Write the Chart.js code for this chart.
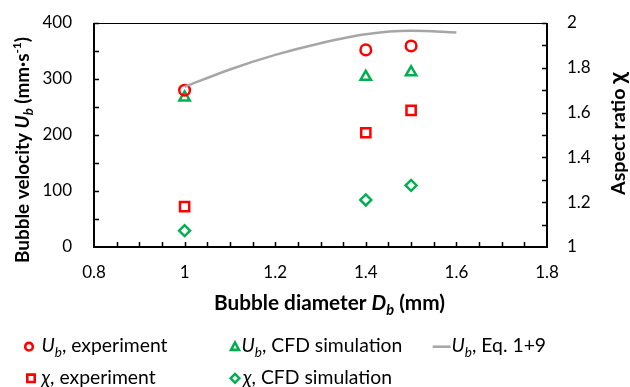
<!DOCTYPE html>
<html>
<head>
<meta charset="utf-8">
<script src="https://cdn.jsdelivr.net/npm/chart.js@4.4.1/dist/chart.umd.min.js"></script>
<style>
  html, body { margin: 0; padding: 0; background: #fff; }
  #wrap { width: 630px; height: 387px; }
</style>
</head>
<body>
<div id="wrap"><canvas id="chart" width="630" height="387"></canvas></div>
<script>
// data
const diameters = [1.0, 1.4, 1.5];
const ubExperiment = [280, 352, 359];
const ubCfd = [267, 304, 312];
const chiExperiment = [1.18, 1.51, 1.61];
const chiCfd = [1.073, 1.21, 1.275];
const eqDiameters = [1.0, 1.1, 1.2, 1.3, 1.4, 1.5, 1.6];
const ubEquation = [286, 317, 343, 364, 380, 386, 383];

const RED = '#FF0000';
const GREEN = '#00B050';
const GRAY = '#A6A6A6';
const FONT = 'Lato';

const pts = (xs, ys) => xs.map((x, i) => ({ x: x, y: ys[i] }));

// text made of runs: s = style, k = size factor, dy = shift in em
const SUB = { k: 0.7, dy: 0.25 };
const xTitle = [
    { t: 'Bubble diameter ', s: 'bold' },
    { t: 'D', s: 'italic bold' },
    { t: 'b', s: 'italic bold', ...SUB },
    { t: ' (mm)', s: 'bold' }
];
const yTitle = [
    { t: 'Bubble velocity ', s: 'bold' },
    { t: 'U', s: 'italic bold' },
    { t: 'b', s: 'italic bold', ...SUB },
    { t: ' (mm\u00b7s', s: 'bold' },
    { t: '-1', s: 'bold', k: 0.62, dy: -0.42 },
    { t: ')', s: 'bold' }
];
const y2Title = [
    { t: 'Aspect ratio ', s: 'bold' },
    { t: '\u03c7', s: 'bold', k: 1.2 }
];
const ub = [{ t: 'U', s: 'italic' }, { t: 'b', s: 'italic', ...SUB }];
const chi = [{ t: '\u03c7', s: 'italic' }];
const legendItems = [
    { mark: 'circle', color: RED, x: 29, y: 346.7, tx: 41.5, ty: 352, text: [...ub, { t: ', experiment' }] },
    { mark: 'triangle', color: GREEN, x: 235, y: 346.7, tx: 241.5, ty: 352, text: [...ub, { t: ', CFD simulation' }] },
    { mark: 'line', color: GRAY, x: 441.7, y: 346.7, tx: 451.5, ty: 352, text: [...ub, { t: ', Eq. 1+9' }] },
    { mark: 'square', color: RED, x: 31, y: 378.3, tx: 41.5, ty: 384, text: [...chi, { t: ', experiment' }] },
    { mark: 'diamond', color: GREEN, x: 235, y: 378.3, tx: 243, ty: 384, text: [...chi, { t: ', CFD simulation' }] }
];

function build(spec, size) {
    return spec.map(r => ({
        t: r.t,
        f: `${r.s || ''} ${(size * (r.k || 1)).toFixed(2)}px ${FONT}`,
        dy: (r.dy || 0) * size
    }));
}
function runsWidth(ctx, runs) {
    let w = 0;
    runs.forEach(r => { ctx.font = r.f; w += ctx.measureText(r.t).width; });
    return w;
}
// font size that gives the text the width it has in the figure
function fitSize(ctx, spec, width) {
    return 20 * width / runsWidth(ctx, build(spec, 20));
}
function drawRuns(ctx, runs, x, y, align) {
    let cx = x;
    if (align === 'center') cx = x - runsWidth(ctx, runs) / 2;
    ctx.textBaseline = 'alphabetic';
    ctx.textAlign = 'left';
    runs.forEach(r => {
        ctx.font = r.f;
        ctx.fillText(r.t, cx, y + r.dy);
        cx += ctx.measureText(r.t).width;
    });
}

function marker(ctx, type, x, y, color) {
    ctx.save();
    ctx.strokeStyle = color;
    ctx.lineWidth = 2.6;
    ctx.beginPath();
    if (type === 'circle') {
        ctx.arc(x, y, 3.8, 0, Math.PI * 2);
    } else if (type === 'square') {
        ctx.rect(x - 3.7, y - 3.7, 7.4, 7.4);
    } else if (type === 'triangle') {
        ctx.moveTo(x, y - 4.2);
        ctx.lineTo(x + 4, y + 3.2);
        ctx.lineTo(x - 4, y + 3.2);
        ctx.closePath();
    } else if (type === 'diamond') {
        ctx.lineWidth = 2.4;
        ctx.moveTo(x, y - 4.4);
        ctx.lineTo(x + 4.4, y);
        ctx.lineTo(x, y + 4.4);
        ctx.lineTo(x - 4.4, y);
        ctx.closePath();
    } else if (type === 'line') {
        ctx.lineWidth = 2.5;
        ctx.moveTo(x - 9, y);
        ctx.lineTo(x + 9, y);
    }
    ctx.stroke();
    ctx.restore();
}

const decorations = {
    id: 'decorations',
    afterDraw(chart) {
        const ctx = chart.ctx;
        const a = chart.chartArea;
        const sx = chart.scales.x, sy = chart.scales.y, sy2 = chart.scales.y2;
        ctx.save();
        ctx.strokeStyle = '#000';
        // frame
        ctx.lineWidth = 1;
        ctx.beginPath();
        ctx.moveTo(a.left, a.top + 0.5);
        ctx.lineTo(a.right, a.top + 0.5);
        ctx.stroke();
        ctx.lineWidth = 2;
        ctx.beginPath();
        ctx.moveTo(a.left, a.top);
        ctx.lineTo(a.left, a.bottom);
        ctx.lineTo(a.right, a.bottom);
        ctx.lineTo(a.right, a.top);
        ctx.stroke();
        // inward ticks
        ctx.lineWidth = 1.5;
        ctx.beginPath();
        for (let v = 0.85; v < 1.79; v += 0.05) {
            const px = Math.round(sx.getPixelForValue(v)) + 0.5;
            ctx.moveTo(px, a.bottom);
            ctx.lineTo(px, a.bottom - 5);
        }
        for (let v = 50; v <= 400; v += 50) {
            const py = Math.round(sy.getPixelForValue(v)) + 0.5;
            ctx.moveTo(a.left, py);
            ctx.lineTo(a.left + 5, py);
        }
        for (let v = 1.1; v < 2.05; v += 0.1) {
            const py = Math.round(sy2.getPixelForValue(v)) + 0.5;
            ctx.moveTo(a.right, py);
            ctx.lineTo(a.right - 5, py);
        }
        ctx.stroke();

        ctx.fillStyle = '#000';
        drawRuns(ctx, build(xTitle, fitSize(ctx, xTitle, 231)), 329.5, 310, 'center');
        ctx.save();
        ctx.translate(28.5, 150);
        ctx.rotate(-Math.PI / 2);
        drawRuns(ctx, build(yTitle, fitSize(ctx, yTitle, 226)), 0, 0, 'center');
        ctx.restore();
        ctx.save();
        ctx.translate(625, 133.5);
        ctx.rotate(-Math.PI / 2);
        drawRuns(ctx, build(y2Title, fitSize(ctx, y2Title, 123)), 0, 0, 'center');
        ctx.restore();

        // legend, one text size for all entries
        const size = fitSize(ctx, legendItems[1].text, 161);
        legendItems.forEach(item => {
            marker(ctx, item.mark, item.x, item.y, item.color);
            drawRuns(ctx, build(item.text, size), item.tx, item.ty);
        });
        ctx.restore();
    }
};

// y label padding must not push the plot top down
const noVPad = s => { s.paddingTop = 0; s.paddingBottom = 0; };

const ctx = document.getElementById('chart').getContext('2d');
const chart = new Chart(ctx, {
    type: 'scatter',
    data: {
        datasets: [
            {
                label: 'Ub, Eq. 1+9',
                data: pts(eqDiameters, ubEquation),
                yAxisID: 'y',
                showLine: true,
                borderColor: GRAY,
                borderWidth: 2.5,
                pointRadius: 0,
                cubicInterpolationMode: 'monotone'
            },
            {
                label: 'Ub, experiment',
                data: pts(diameters, ubExperiment),
                yAxisID: 'y',
                pointStyle: 'circle',
                pointRadius: 5.3,
                borderColor: RED,
                backgroundColor: 'rgba(0,0,0,0)',
                borderWidth: 2.5
            },
            {
                label: 'Ub, CFD simulation',
                data: pts(diameters, ubCfd),
                yAxisID: 'y',
                pointStyle: 'triangle',
                pointRadius: 6,
                borderColor: GREEN,
                backgroundColor: 'rgba(0,0,0,0)',
                borderWidth: 2.5
            },
            {
                label: 'chi, experiment',
                data: pts(diameters, chiExperiment),
                yAxisID: 'y2',
                pointStyle: 'rect',
                pointRadius: 6.5,
                borderColor: RED,
                backgroundColor: 'rgba(0,0,0,0)',
                borderWidth: 2.5
            },
            {
                label: 'chi, CFD simulation',
                data: pts(diameters, chiCfd),
                yAxisID: 'y2',
                pointStyle: 'rectRot',
                pointRadius: 5.5,
                borderColor: GREEN,
                backgroundColor: 'rgba(0,0,0,0)',
                borderWidth: 2.4
            }
        ]
    },
    options: {
        responsive: false,
        animation: false,
        events: [],
        layout: { padding: { top: 23, left: 0, right: 0, bottom: 0 } },
        plugins: { legend: { display: false }, tooltip: { enabled: false } },
        scales: {
            x: {
                type: 'linear',
                min: 0.8,
                max: 1.8,
                grid: { display: false, drawTicks: false },
                border: { display: false },
                ticks: {
                    stepSize: 0.2,
                    padding: 15,
                    color: '#000',
                    font: { family: FONT, size: 17 },
                    callback: v => Math.round(v * 10) / 10
                },
                afterFit: s => { s.height = 387 - 247; }
            },
            y: {
                position: 'left',
                min: 0,
                max: 400,
                grid: { display: false, drawTicks: false },
                border: { display: false },
                ticks: {
                    stepSize: 100,
                    padding: 22,
                    color: '#000',
                    font: { family: FONT, size: 17 }
                },
                afterFit: s => { s.width = 94; noVPad(s); }
            },
            y2: {
                position: 'right',
                min: 1,
                max: 2,
                grid: { display: false, drawTicks: false },
                border: { display: false },
                ticks: {
                    stepSize: 0.2,
                    padding: 20,
                    color: '#000',
                    font: { family: FONT, size: 17 },
                    callback: v => Math.round(v * 10) / 10
                },
                afterFit: s => { s.width = 630 - 547; noVPad(s); }
            }
        }
    },
    plugins: [decorations]
});
</script>
</body>
</html>
